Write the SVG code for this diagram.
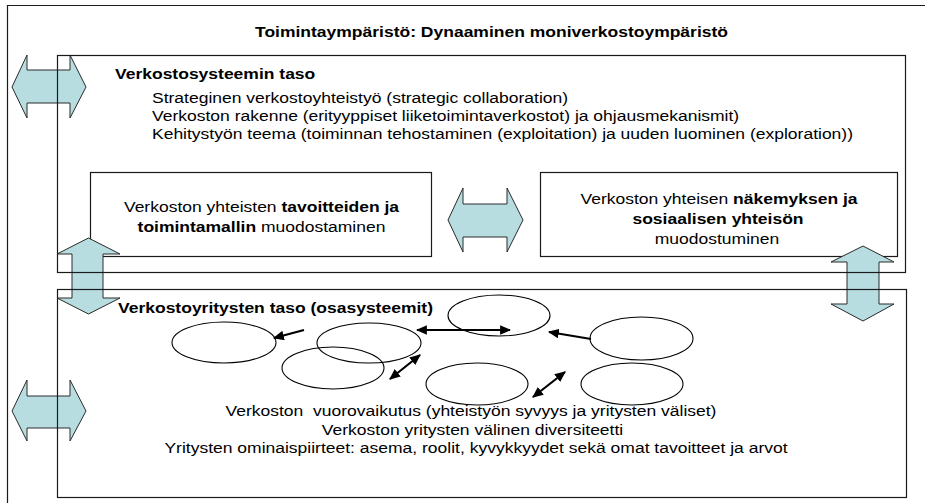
<svg xmlns="http://www.w3.org/2000/svg" width="925" height="503" viewBox="0 0 925 503">
  <defs>
    <style>
      .frame { fill: none; stroke: #1a1a1a; stroke-width: 1.2; }
      .box { fill: #ffffff; stroke: #1a1a1a; stroke-width: 1.2; }
      .big-arrow { fill: #b8dde1; stroke: #2a2a2a; stroke-width: 1; stroke-linejoin: miter; }
      .firm { fill: none; stroke: #000000; stroke-width: 1.1; }
      .link { fill: none; stroke: #000000; stroke-width: 2.2; }
      text { font-family: "Liberation Sans", Arial, sans-serif; font-size: 17.5px; fill: #000000; }
      .b { font-weight: bold; }
      .mid { text-anchor: middle; }
    </style>
    <marker id="head" viewBox="0 0 10 10" refX="9" refY="5" markerWidth="5" markerHeight="4.4" orient="auto-start-reverse" markerUnits="strokeWidth" preserveAspectRatio="none">
      <path d="M0,0 L10,5 L0,10 Z" fill="#000000"/>
    </marker>
  </defs>

  <rect width="925" height="503" fill="#ffffff"/>

  <!-- operating environment frame -->
  <g id="environment">
    <path class="frame" d="M7.5,503 V5.5 H925"/>
    <text class="b" transform="translate(255 37) scale(1 0.86)">Toimintaympäristö: Dynaaminen moniverkostoympäristö</text>
  </g>

  <!-- inner boxes of the network system level -->
  <g id="goals-box">
    <rect class="box" x="90.5" y="172.5" width="341" height="84"/>
    <text class="mid" transform="translate(261.5 211.5) scale(1 0.86)">Verkoston yhteisten <tspan class="b">tavoitteiden ja</tspan></text>
    <text class="mid" transform="translate(261.5 231.5) scale(1 0.86)"><tspan class="b">toimintamallin</tspan> muodostaminen</text>
  </g>
  <g id="vision-box">
    <rect class="box" x="540.5" y="172.5" width="357" height="84"/>
    <text class="mid" transform="translate(719 203.5) scale(1 0.86)">Verkoston yhteisen <tspan class="b">näkemyksen ja</tspan></text>
    <text class="mid b" transform="translate(718 224) scale(1 0.86)">sosiaalisen yhteisön</text>
    <text class="mid" transform="translate(717 243.5) scale(1 0.86)">muodostuminen</text>
  </g>

  <!-- block arrows -->
  <g id="arrows">
    <polygon class="big-arrow" points="12,87 27,55 27,70 70,70 70,55 86,87 70,118 70,103 27,103 27,118"/>
    <polygon class="big-arrow" points="12,411 27,380 27,396 70,396 70,380 86,411 70,441 70,428 27,428 27,441"/>
    <polygon class="big-arrow" points="448,220 463,188 463,204 507,204 507,188 523,220 507,252 507,237 463,237 463,252"/>
    <polygon class="big-arrow" points="88.5,238 120,254 103,254 103,298 120,298 88.5,314 57,298 72,298 72,254 57,254"/>
    <polygon class="big-arrow" points="863,246 894,262 879,262 879,304 894,304 863,321 831,304 847,304 847,262 831,262"/>
  </g>

  <!-- network system level -->
  <g id="system-level">
    <rect class="frame" x="57.5" y="55.5" width="848" height="217"/>
    <text class="b" transform="translate(115 79) scale(1 0.86)">Verkostosysteemin taso</text>
    <text transform="translate(152 103) scale(1 0.86)">Strateginen verkostoyhteistyö (strategic collaboration)</text>
    <text transform="translate(152 121) scale(1 0.86)">Verkoston rakenne (erityyppiset liiketoimintaverkostot) ja ohjausmekanismit)</text>
    <text transform="translate(152 139) scale(1 0.86)">Kehitystyön teema (toiminnan tehostaminen (exploitation) ja uuden luominen (exploration))</text>
  </g>

  <!-- network firm level -->
  <g id="firm-level">
    <rect class="frame" x="57.5" y="289.5" width="849" height="208"/>
    <text class="b" transform="translate(118 313) scale(1 0.86)">Verkostoyritysten taso (osasysteemit)</text>
    <text class="mid" xml:space="preserve" transform="translate(471 416) scale(1 0.86)">Verkoston  vuorovaikutus (yhteistyön syvyys ja yritysten väliset)</text>
    <text class="mid" transform="translate(472.5 435) scale(1 0.86)">Verkoston yritysten välinen diversiteetti</text>
    <text class="mid" transform="translate(476 453) scale(1 0.86)">Yritysten ominaispiirteet: asema, roolit, kyvykkyydet sekä omat tavoitteet ja arvot</text>
  </g>

  <!-- firms -->
  <g id="firm-1"><ellipse class="firm" cx="224" cy="342.5" rx="52" ry="20.5"/></g>
  <g id="firm-2"><ellipse class="firm" cx="369" cy="343" rx="52" ry="20"/></g>
  <g id="firm-3"><ellipse class="firm" cx="333" cy="368" rx="51" ry="21"/></g>
  <g id="firm-4"><ellipse class="firm" cx="499" cy="315.5" rx="51" ry="20.5"/></g>
  <g id="firm-5"><ellipse class="firm" cx="641.5" cy="338.5" rx="51.5" ry="21.5"/></g>
  <g id="firm-6"><ellipse class="firm" cx="477" cy="384" rx="51" ry="21"/></g>
  <g id="firm-7"><ellipse class="firm" cx="632" cy="384" rx="51" ry="21"/></g>

  <!-- interactions between firms -->
  <g id="connectors">
    <line class="link" x1="304" y1="330" x2="274" y2="338" marker-end="url(#head)"/>
    <line class="link" x1="417" y1="330" x2="510" y2="330" marker-start="url(#head)" marker-end="url(#head)"/>
    <line class="link" x1="591" y1="339" x2="549" y2="332" marker-end="url(#head)"/>
    <line class="link" x1="420" y1="355" x2="390" y2="379" marker-start="url(#head)" marker-end="url(#head)"/>
    <line class="link" x1="565" y1="372" x2="533" y2="397" marker-start="url(#head)" marker-end="url(#head)"/>
  </g>
</svg>
